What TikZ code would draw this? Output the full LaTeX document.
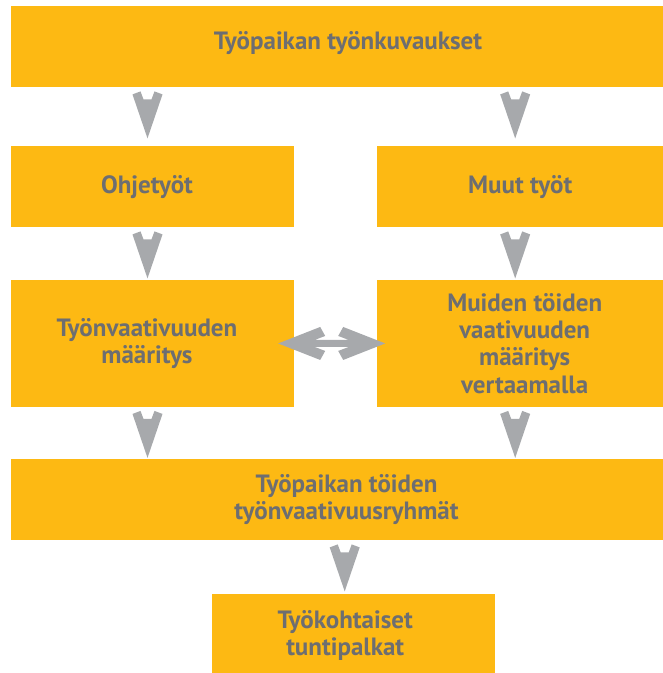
\documentclass[tikz,border=0pt]{standalone}
\usepackage{fontspec}
\setmainfont{PT Sans}
\usetikzlibrary{calc}
\definecolor{boxyellow}{HTML}{FDB913}
\definecolor{flowgray}{HTML}{A7A9AC}
\definecolor{textgray}{HTML}{6D6E71}
\newcommand{\flowdown}[1]{\fill[flowgray] #1 ++(0,47) -- ++(-15,-44) -- ++(8,-3) -- ++(3,8) -- ++(8,0) -- ++(3,-8) -- ++(8,3) -- cycle;}
\newcommand{\flowboth}[1]{\fill[flowgray] #1 ++(-53.5,0) -- ++(42,-16.5) -- ++(5,9) -- ++(-10.5,4) -- ++(34,0) -- ++(-10.5,-4) -- ++(5,-9) -- ++(42,16.5) -- ++(-42,16.5) -- ++(-5,-9) -- ++(10.5,-4) -- ++(-34,0) -- ++(10.5,4) -- ++(-5,9) -- cycle;}

\begin{document}
\begin{tikzpicture}[x=1pt, y=-1pt, every node/.style={font=\fontsize{25}{27.2}\selectfont\bfseries, text=textgray, align=center}, box/.style={fill=boxyellow, inner sep=0pt, anchor=north west}]
	\useasboundingbox (0,0) rectangle (663,673);
	\node[box, minimum width=652.4, minimum height=81, label={[xshift=11, yshift=4]center:Työpaikan työnkuvaukset}] (kuv) at (10.6,6) {};
	\node[box, minimum width=283.4, minimum height=81, label={[xshift=-5.5]center:Ohjetyöt}] (ohj) at (10.6,146) {};
	\node[box, minimum width=286, minimum height=81, label={center:Muut työt}] (muu) at (377,146) {};
	\node[box, minimum width=283.4, minimum height=126.5, label={[xshift=-5.5]center:Työnvaativuuden\\määritys}] (tyv) at (10.6,280) {};
	\node[box, minimum width=286, minimum height=126.5, label={[xshift=4.5]center:Muiden töiden\\vaativuuden\\määritys\\vertaamalla}] (mui) at (377,280) {};
	\node[box, minimum width=652.4, minimum height=81, label={[xshift=9.5]center:Työpaikan töiden\\työnvaativuusryhmät}] (ryh) at (10.6,459) {};
	\node[box, minimum width=283, minimum height=79, label={[xshift=-8.5, yshift=-2]center:Työkohtaiset\\tuntipalkat}] (pal) at (212,594) {};
	\flowdown{($(kuv.south -| ohj.north)+(-5,4)$)}
	\flowdown{($(kuv.south -| muu.north)+(-5,4)$)}
	\flowdown{($(ohj.south)+(-5,4)$)}
	\flowdown{($(muu.south)+(-5,4)$)}
	\flowdown{($(tyv.south)+(-5,4)$)}
	\flowdown{($(mui.south)+(-5,4)$)}
	\flowdown{($(ryh.south -| pal.north)+(-9,4)$)}
	\flowboth{($(tyv.east)!0.5!(mui.west)+(-4,0)$)}
\end{tikzpicture}
\end{document}
